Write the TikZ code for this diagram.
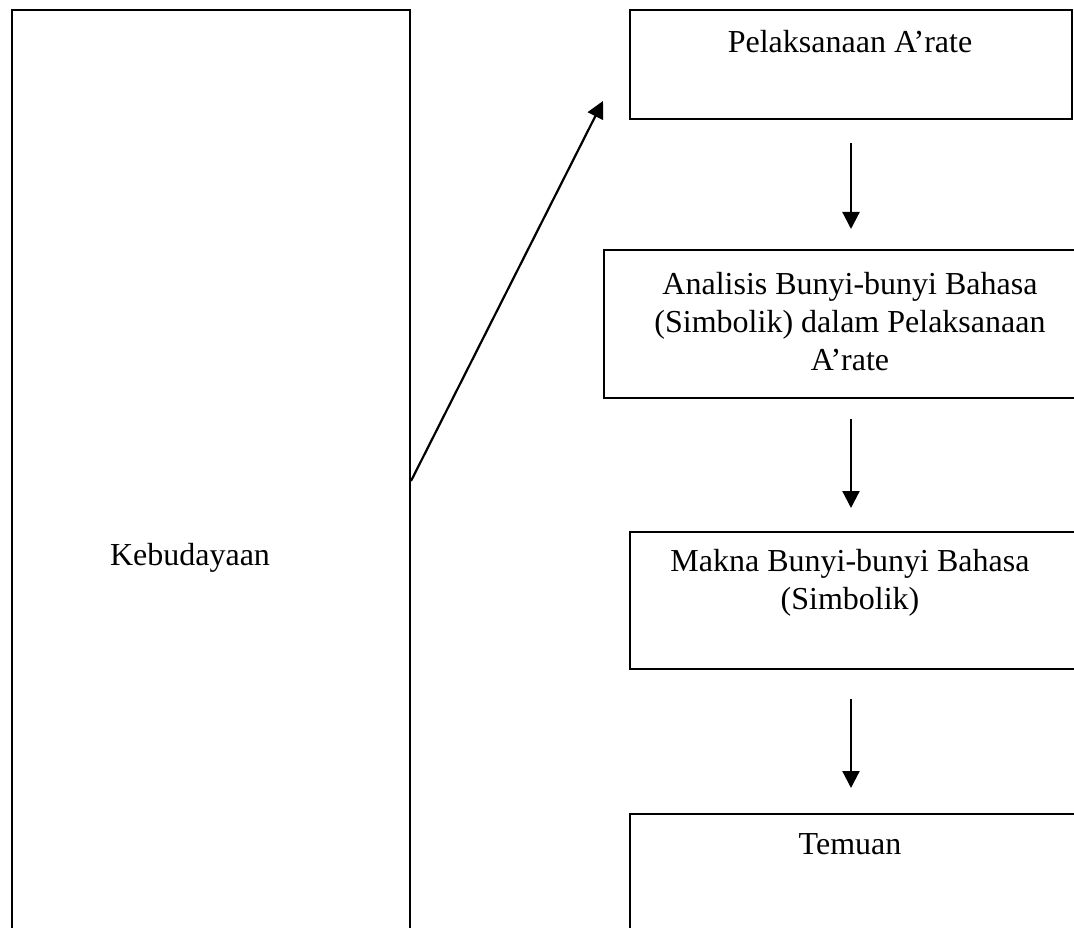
\documentclass[tikz,border=0pt]{standalone}
\usepackage{fontspec}
\setmainfont{Liberation Serif}
\usetikzlibrary{arrows.meta,calc}
\begin{document}
\begin{tikzpicture}[x=1pt,y=1pt,
  box/.style={draw=black,line width=2pt,rectangle,inner sep=0pt},
  txt/.style={align=center,inner sep=0pt,font=\fontsize{32}{38}\selectfont},
  conn/.style={draw=black,line width=2.2pt,-{Triangle[width=17pt,length=17pt]}}]
\useasboundingbox (0,0) rectangle (1074,-928);
\clip (0,0) rectangle (1074,-928);
% left box
\node[box,minimum width=398pt,minimum height=930pt,anchor=north west] (kb) at (11,-9) {};
\node[txt] (kbt) at (190,-558) {Kebudayaan};
% right boxes
\node[box,minimum width=442pt,minimum height=109pt,anchor=north west] (b1) at (629,-9) {};
\node[txt,anchor=base] (b1t) at (850,-53) {Pelaksanaan A’rate};
\node[box,minimum width=480pt,minimum height=148pt,anchor=north west] (b2) at (603,-249) {};
\node[txt,anchor=north] (b2t) at (850,-272) {Analisis Bunyi-bunyi Bahasa\\(Simbolik) dalam Pelaksanaan\\A’rate};
\node[box,minimum width=455pt,minimum height=137pt,anchor=north west] (b3) at (629,-531) {};
\node[txt,anchor=north] (b3t) at (850,-549) {Makna Bunyi-bunyi Bahasa\\(Simbolik)};
\node[box,minimum width=455pt,minimum height=140pt,anchor=north west] (b4) at (629,-813) {};
\node[txt,anchor=base] (b4t) at (850,-854) {Temuan};
% connectors
\coordinate (tip) at (603,-101);
\draw[conn] (kb.east |- 0,-481) -- (tip);
\draw[conn,shorten <=23pt,shorten >=20pt] (b1.south) -- (b1.south |- b2.north);
\draw[conn,shorten <=20pt,shorten >=23pt] (b1.south |- b2.south) -- (b1.south |- b3.north);
\draw[conn,shorten <=29pt,shorten >=25pt] (b1.south |- b3.south) -- (b1.south |- b4.north);
\end{tikzpicture}
\end{document}
